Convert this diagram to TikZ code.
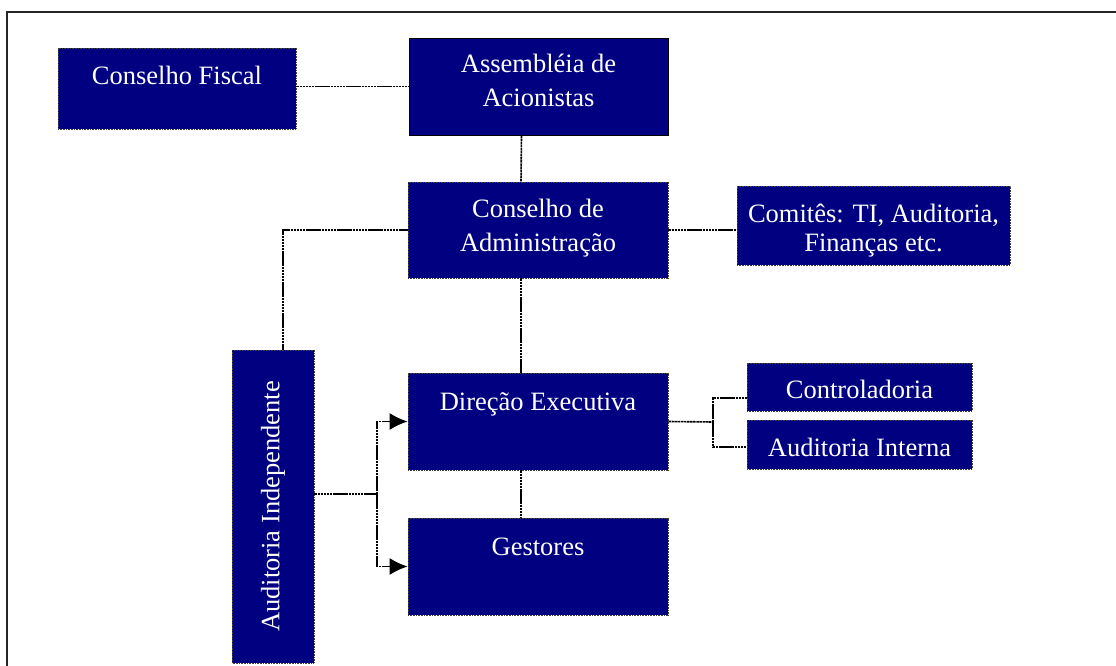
\documentclass[tikz,border=0pt]{standalone}
\usepackage{fontspec}
\setmainfont{Liberation Serif}
\usetikzlibrary{arrows.meta}
\definecolor{orgNavy}{RGB}{0,0,128}

\begin{document}
\begin{tikzpicture}[x=1pt,y=-1pt,
  orgbox/.style={rectangle,fill=orgNavy,draw=black!75,dash pattern=on 1pt off 0.6pt,
    line width=0.8pt,text=white,align=center,inner xsep=0pt,inner ysep=0pt,
    font=\fontsize{26.5}{34}\selectfont},
  link/.style={draw=black,line width=1.6pt,dash pattern=on 2.5pt off 0.6pt}]
\useasboundingbox (0,0) rectangle (1116,666);
% page frame
\draw[line width=2pt,black!85] (7,666) -- (7,12) -- (1116,12);

% top level
\node[orgbox,minimum width=238pt,text height=37pt,text depth=44pt] (fiscal) at (177,88.5) {Conselho Fiscal};
\node[orgbox,draw=black,solid,minimum width=259pt,text height=69pt,text depth=28pt] (assembleia) at (538.5,86.5) {Assembléia de\\Acionistas};
\node[orgbox,minimum width=260pt,text height=69pt,text depth=27pt] (conselho) at (538,230) {Conselho de\\Administração};
\node[orgbox,minimum width=273pt,text height=65pt,text depth=14pt,font=\fontsize{26.5}{29}\selectfont] (comites) at (873.5,225.5) {Comitês: TI, Auditoria,\\Finanças etc.};

% executive level
\node[orgbox,minimum width=260pt,text height=37pt,text depth=60pt] (direcao) at (538,421.5) {Direção Executiva};
\node[orgbox,minimum width=260pt,text height=37pt,text depth=60pt] (gestores) at (538,566.5) {Gestores};
\node[orgbox,minimum width=225pt,text height=35pt,text depth=13pt] (ctrl) at (859.5,387) {Controladoria};
\node[orgbox,minimum width=225pt,text height=36pt,text depth=13pt] (interna) at (859.5,444.5) {Auditoria Interna};
\node[orgbox,rotate=90,minimum width=313pt,minimum height=82pt] (audit) at (273,506.5) {Auditoria Independente};

% connectors
\coordinate (audsplit) at (377,494);
\coordinate (dirsplit) at (713,422);
\draw[link] (fiscal.east |- assembleia.west) -- (assembleia.west);
\draw[link] ([xshift=-17pt]assembleia.south) -- ([xshift=-17pt]conselho.north);
\draw[link] ([xshift=-17pt]conselho.south) -- ([xshift=-17pt]direcao.north);
\draw[link] ([xshift=-17pt]direcao.south) -- ([xshift=-17pt]gestores.north);
\draw[link] (conselho.east) -- (conselho.east -| comites.west);
\draw[link] ([xshift=10pt]audit.east) |- (conselho.west);
\draw[link] ([yshift=12.5pt]audit.south) -- (audsplit);
\draw[link,-{Latex[length=18pt,width=17pt]}] (audsplit) |- (direcao.west);
\draw[link,-{Latex[length=18pt,width=17pt]}] (audsplit) |- (gestores.west);
\draw[link] (direcao.east) -- (dirsplit);
\draw[link] (dirsplit) |- ([yshift=-11pt]ctrl.west);
\draw[link] (dirsplit) |- ([yshift=-2.5pt]interna.west);
\end{tikzpicture}
\end{document}
